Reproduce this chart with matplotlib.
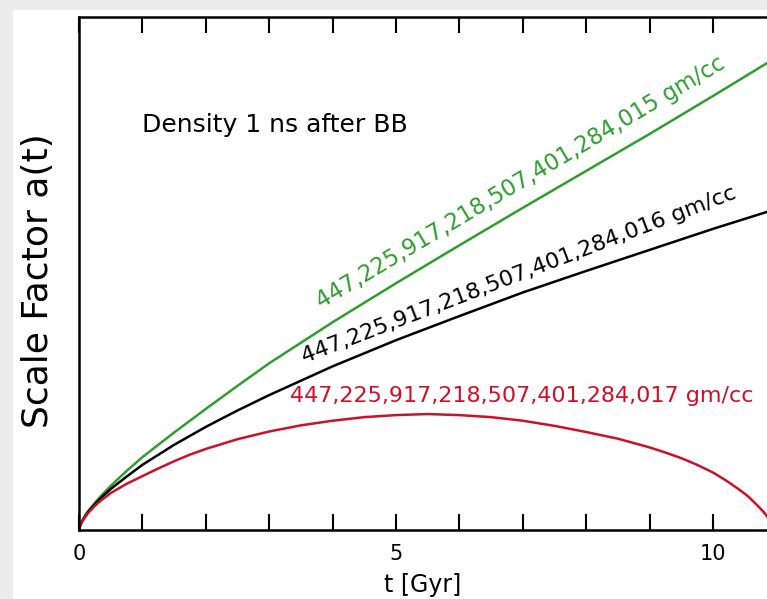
import matplotlib
matplotlib.use("Agg")
import matplotlib.pyplot as plt
from matplotlib.patches import Rectangle
from matplotlib.ticker import MultipleLocator

# scale factor a(t) (arbitrary units, 0..1 = frame height)
t_open = [0, 0.02, 0.05, 0.1, 0.15, 0.25, 0.35, 0.5, 0.75, 1, 1.5, 2, 2.5, 3, 4, 5, 6, 7,
          8, 9, 10, 10.85]
a_open = [0, 0.0095, 0.018, 0.029, 0.038, 0.053, 0.067, 0.086, 0.115, 0.142, 0.190, 0.236,
          0.281, 0.325, 0.405, 0.481, 0.555, 0.628, 0.700, 0.772, 0.846, 0.910]

t_flat = [0, 0.02, 0.05, 0.1, 0.15, 0.25, 0.35, 0.5, 0.75, 1, 1.5, 2, 2.5, 3, 4, 5, 6, 7,
          8, 9, 10, 10.85]
a_flat = [0, 0.0093, 0.017, 0.027, 0.036, 0.050, 0.063, 0.080, 0.104, 0.127, 0.166, 0.201,
          0.233, 0.263, 0.319, 0.370, 0.417, 0.463, 0.505, 0.546, 0.587, 0.620]

t_closed = [0, 0.02, 0.05, 0.1, 0.15, 0.25, 0.35, 0.5, 0.75, 1, 1.25, 1.5, 1.75, 2, 2.5,
            3, 3.5, 4, 4.5, 5, 5.5, 6, 6.5, 7, 7.5, 8, 8.5, 9, 9.25, 9.5, 9.75, 10, 10.2,
            10.4, 10.55, 10.7, 10.8, 10.85, 10.9, 10.95]
a_closed = [0, 0.009, 0.016, 0.026, 0.034, 0.047, 0.058, 0.072, 0.090, 0.105, 0.120, 0.134,
            0.147, 0.158, 0.177, 0.192, 0.204, 0.213, 0.220, 0.224, 0.226, 0.224, 0.220,
            0.213, 0.203, 0.191, 0.178, 0.161, 0.151, 0.140, 0.127, 0.112, 0.097, 0.080,
            0.066, 0.048, 0.035, 0.027, 0.017, 0.0]

labels = ["447,225,917,218,507,401,284,015 gm/cc",
          "447,225,917,218,507,401,284,016 gm/cc",
          "447,225,917,218,507,401,284,017 gm/cc"]

green = '#2f9e2f'
red = '#cc1128'

fig = plt.figure(figsize=(7.67, 5.99), dpi=100)
fig.patch.set_facecolor('#ececec')
fig.add_artist(Rectangle((13 / 767, 0), 1, 1 - 10 / 599, transform=fig.transFigure,
                         facecolor='white', edgecolor='none', zorder=0))

ax = fig.add_axes([79 / 767, 1 - 530 / 599, 688 / 767, 513 / 599])
ax.plot(t_open, a_open, color=green, lw=1.8)
ax.plot(t_flat, a_flat, color='black', lw=1.8)
ax.plot(t_closed, a_closed, color=red, lw=1.8)

ax.set_xlim(0, 688 / 63.4)
ax.set_ylim(0, 1)
ax.spines['right'].set_visible(False)
for s in ['left', 'top', 'bottom']:
    ax.spines[s].set_linewidth(1.8)

ax.xaxis.set_major_locator(MultipleLocator(5))
ax.xaxis.set_minor_locator(MultipleLocator(1))
ax.tick_params(axis='x', which='both', direction='in', top=True, bottom=True,
               length=11.5, width=1.5, labelsize=15, pad=10)
ax.set_yticks([])

ax.set_xlabel('t [Gyr]', fontsize=17)
ax.xaxis.set_label_coords(0.5, -0.083)
ax.set_ylabel('Scale Factor a(t)', fontsize=26)
ax.yaxis.set_label_coords(-0.035, 0.487)

ax.text(0.99, 0.776, 'Density 1 ns after BB', fontsize=18, ha='left', va='baseline')
ax.text(7.02, 0.666, labels[0], fontsize=16.3, color=green, rotation=30.8,
        rotation_mode='anchor', ha='center', va='baseline')
ax.text(6.98, 0.487, labels[1], fontsize=16, color='black', rotation=20.9,
        rotation_mode='anchor', ha='center', va='baseline')
ax.text(6.99, 0.250, labels[2], fontsize=16, color=red, ha='center', va='baseline')

fig.savefig('out.png', dpi=100, facecolor=fig.get_facecolor())
